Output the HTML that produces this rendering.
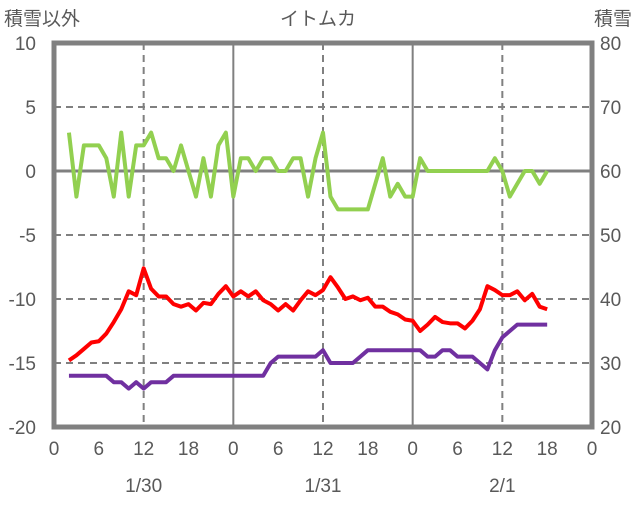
<!DOCTYPE html>
<html><head><meta charset="utf-8"><style>
body{margin:0;background:#fff;}
svg text{font-family:"Liberation Sans","Noto Sans CJK JP",sans-serif;fill:#595959;font-size:19px;}
</style></head><body>
<svg width="636" height="501" viewBox="0 0 636 501" id="c">
<rect x="0" y="0" width="636" height="501" fill="#fff"/>
<g id="grid"></g>
<g id="series"></g>
<rect x="54" y="43" width="538" height="384" fill="none" stroke="#808080" stroke-width="5"/>
<g id="labels"></g>
<text x="4" y="25">積雪以外</text>
<text x="318" y="25" text-anchor="middle">イトムカ</text>
<text x="632" y="25" text-anchor="end">積雪</text>
</svg>
<script>
const hours=[];for(let h=2;h<=66;h++)hours.push(h);
const green=[3,-2,2,2,2,1,-2,3,-2,2,2,3,1,1,0,2,0,-2,1,-2,2,3,-2,1,1,0,1,1,0,0,1,1,-2,1,3,-2,-3,-3,-3,-3,-3,-1,1,-2,-1,-2,-2,1,0,0,0,0,0,0,0,0,0,1,0,-2,-1,0,0,-1,0];
const red=[-14.8,-14.4,-13.9,-13.4,-13.3,-12.7,-11.8,-10.8,-9.4,-9.7,-7.6,-9.2,-9.8,-9.8,-10.4,-10.6,-10.4,-10.9,-10.3,-10.4,-9.6,-9.0,-9.8,-9.4,-9.8,-9.4,-10.1,-10.4,-10.9,-10.4,-10.9,-10.1,-9.4,-9.7,-9.3,-8.3,-9.1,-10.0,-9.8,-10.1,-9.9,-10.6,-10.6,-11.0,-11.2,-11.6,-11.7,-12.5,-12.0,-11.4,-11.8,-11.9,-11.9,-12.3,-11.7,-10.8,-9.0,-9.3,-9.7,-9.7,-9.4,-10.1,-9.6,-10.6,-10.8];
const snow=[28,28,28,28,28,28,27,27,26,27,26,27,27,27,28,28,28,28,28,28,28,28,28,28,28,28,28,30,31,31,31,31,31,31,32,30,30,30,30,31,32,32,32,32,32,32,32,32,31,31,32,32,31,31,31,30,29,32,34,35,36,36,36,36,36];
const leftTicks=[10,5,0,-5,-10,-15,-20];
const rightTicks=[80,70,60,50,40,30,20];
const hourTicks=[0,6,12,18,0,6,12,18,0,6,12,18,0];
const dates=["1/30","1/31","2/1"];
const NS="http://www.w3.org/2000/svg";
const X=h=>54+h*538/72;
const YL=v=>171-v*12.8;
const YR=v=>43+(80-v)*6.4;
function mk(t,a,p){const e=document.createElementNS(NS,t);for(const k in a)e.setAttribute(k,a[k]);p.appendChild(e);return e;}
const G=document.getElementById('grid'),S=document.getElementById('series'),L=document.getElementById('labels');
leftTicks.forEach(v=>{if(v===10||v===-20)return;const l=mk('line',{x1:54,x2:592,y1:YL(v),y2:YL(v),stroke:'#808080','stroke-width':v===0?3:2,'stroke-dasharray':v===0?'':'7,5'},G);

});
[12,24,36,48,60].forEach(h=>{const solid=h%24===0;const l=mk('line',{x1:X(h),x2:X(h),y1:43,y2:427,stroke:'#808080','stroke-width':2,'stroke-dasharray':solid?'':'7,5'},G);

});
function line(vals,yf,col,name){const p=mk('polyline',{points:vals.map((v,i)=>X(hours[i])+','+yf(v)).join(' '),fill:'none',stroke:col,'stroke-width':4,'stroke-linejoin':'round'},S);

}
line(green,YL,'#92d050','series-green');
line(red,YL,'#ff0000','series-red');
line(snow,YR,'#7030a0','series-snow-depth');
leftTicks.forEach(v=>{const t=mk('text',{x:36,y:YL(v)+7,'text-anchor':'end'},L);t.textContent=v;

});
rightTicks.forEach(v=>{const t=mk('text',{x:600,y:YR(v)+7},L);t.textContent=v;

});
hourTicks.forEach((v,i)=>{const t=mk('text',{x:X(i*6),y:455,'text-anchor':'middle'},L);t.textContent=v;

});
dates.forEach((d,i)=>{const t=mk('text',{x:X(12+i*24),y:492,'text-anchor':'middle'},L);t.textContent=d;

});
</script>
</body></html>
